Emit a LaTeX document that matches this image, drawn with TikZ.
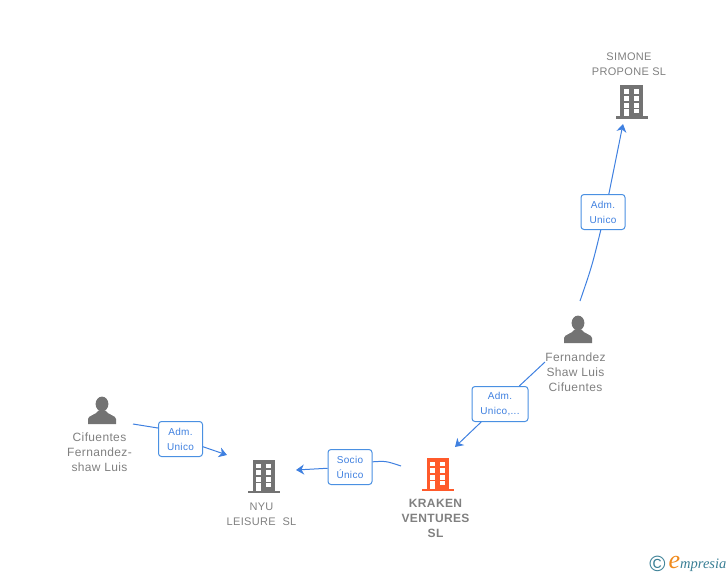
\documentclass[tikz,border=0pt]{standalone}
\usepackage{fontspec}
\usepackage{xcolor}
\usepackage{tikz}
\usetikzlibrary{arrows.meta}
\setmainfont{Liberation Sans}
\newfontfamily\lblfont[LetterSpace=3]{Liberation Sans}
\newfontfamily\logofont{Liberation Serif}
\definecolor{iconc}{HTML}{737373}
\definecolor{textc}{HTML}{808080}
\definecolor{wirec}{HTML}{3F80E0}
\definecolor{boxc}{HTML}{4A90E2}
\definecolor{mainc}{HTML}{FF5A2B}
\definecolor{tealc}{HTML}{3A7F95}
\definecolor{logoc}{HTML}{F08A1D}
\tikzset{
  wire/.style={draw=wirec, line width=1pt},
  tipwire/.style={wire, -{Stealth[length=8pt,width=10pt,inset=2.5pt]}},
  rolebox/.style={draw=boxc, fill=white, line width=1pt, rounded corners=3pt, inner sep=0pt,
    minimum width=44pt, minimum height=35pt, align=center, text=wirec,
    font=\lblfont\fontsize{10}{15}\selectfont},
  lbl/.style={text=textc, align=center, inner sep=0pt, font=\lblfont\fontsize{12}{15}\selectfont},
  caps/.style={text=textc, align=center, inner sep=0pt, font=\lblfont\fontsize{11}{15}\selectfont},
  capsbold/.style={text=textc, align=center, inner sep=0pt, font=\lblfont\bfseries\fontsize{12}{15}\selectfont},
  building/.pic={
    \fill[pic actions] (-11.5,0) rectangle (11,-33.5);
    \fill[pic actions] (-16,0) rectangle (16,-2.5);
    \foreach \yy in {-29.5,-23,-16.2} {
      \fill[white] (-8,\yy) rectangle (-3,\yy+4.8);
      \fill[white] (2,\yy) rectangle (7,\yy+4.8);
    }
    \fill[white] (-8,-10) rectangle (-3,-2.5);
    \fill[white] (2,-10.2) rectangle (7,-5.6);
  },
  person/.pic={
    \fill[pic actions] (0,-6.5) ellipse (6.4 and 7.4);
    \fill[pic actions] (-14,13.5) -- (-14,8.5) .. controls (-14,5) and (-6,4.5) .. (-3.5,0)
      -- (3.5,0) .. controls (6,4.5) and (14,5) .. (14,8.5) -- (14,13.5) -- cycle;
  }
}
\begin{document}
\begin{tikzpicture}[x=1pt,y=-1pt]
  \useasboundingbox (0,0) rectangle (728,575);

  % icons
  \pic[fill=iconc] at (631.5,119) {building};
  \pic[fill=iconc] at (264,493) {building};
  \pic[fill=mainc] at (438,491) {building};
  \pic[fill=iconc] at (578,329.5) {person};
  \pic[fill=iconc] at (102,410.5) {person};

  % names
  \node[caps] (simone) at (629,64.2) {SIMONE\\PROPONE SL};
  \node[caps] (nyu) at (261.5,514) {NYU\\LEISURE\ \ SL};
  \node[capsbold] (kraken) at (435.5,518) {KRAKEN\\VENTURES\\SL};
  \node[lbl] (fernandez) at (575.5,372.5) {Fernandez\\Shaw Luis\\Cifuentes};
  \node[lbl] (cifuentes) at (99.5,452.5) {Cifuentes\\Fernandez-\\shaw Luis};

  % role boxes
  \node[rolebox] (adm1) at (603,212) {Adm.\\Unico};
  \node[rolebox, minimum width=56pt] (adm2) at (500,404) {Adm.\\Unico,...};
  \node[rolebox] (socio) at (350,467) {Socio\\Único};
  \node[rolebox] (adm3) at (180.5,439) {Adm.\\Unico};

  % connector ends
  \coordinate (fernandezup) at (580,301);
  \coordinate (fernandezdown) at (545,362);
  \coordinate (krakenout) at (401,466);
  \coordinate (cifuentesout) at (133,424);
  \coordinate (simonein) at (623,124);
  \coordinate (krakenin) at (455,447);
  \coordinate (nyuright) at (296,470);
  \coordinate (nyuleft) at (227,455);

  \draw[wire] (fernandezup) .. controls (592,266) .. (adm1.263);
  \draw[tipwire] (adm1.72) -- (simonein);
  \draw[wire] (fernandezdown) -- (adm2);
  \draw[tipwire] (adm2) -- (krakenin);
  \draw[wire] (krakenout) .. controls (386,461) .. (socio.13);
  \draw[tipwire] (socio) -- (nyuright);
  \draw[wire] (cifuentesout) -- (adm3.154);
  \draw[tipwire] (adm3) -- (nyuleft);

  % logo
  \node[text=tealc, inner sep=0pt, font=\fontsize{22}{22}\selectfont] (copyr) at (657.5,564) {©};
  \node[text=tealc, inner sep=0pt, font=\logofont\itshape\fontsize{14.5}{14}\selectfont] (logo) at (697.5,564)
    {\textcolor{logoc}{\fontsize{26}{26}\selectfont e}mpresia};
\end{tikzpicture}
\end{document}
